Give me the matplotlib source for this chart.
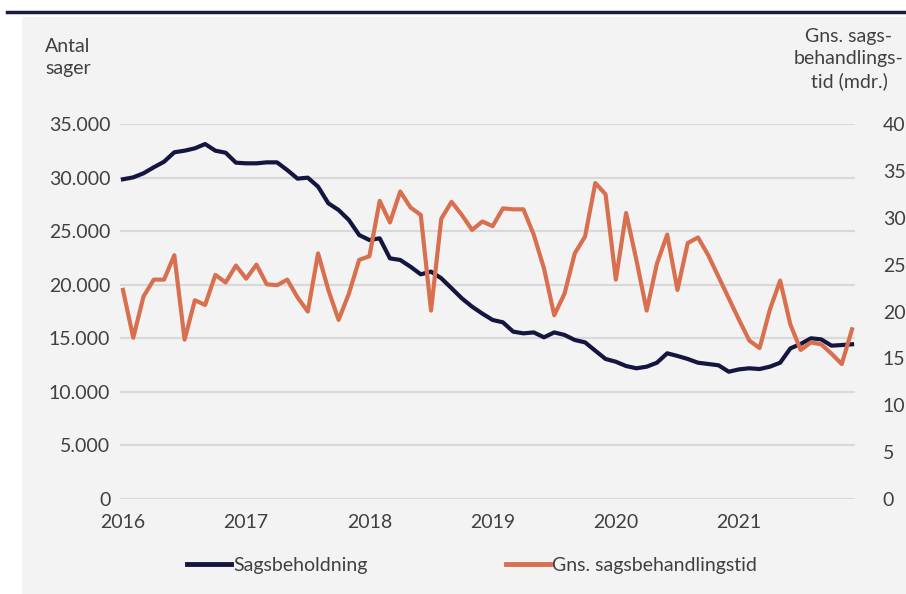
import matplotlib.pyplot as plt
from matplotlib.lines import Line2D
from matplotlib.patches import Rectangle

# monthly data jan 2016 - dec 2021
sagsbeholdning = [29840, 30020, 30400, 30960, 31480, 32360, 32510, 32730, 33130, 32510, 32320, 31390,
                  31330, 31330, 31420, 31420, 30700, 29900, 29990, 29150, 27600, 26970, 26040, 24640,
                  24170, 24330, 22460, 22310, 21680, 20970, 21220, 20600, 19670, 18730, 17950, 17300,
                  16710, 16490, 15620, 15460, 15550, 15090, 15550, 15310, 14840, 14620, 13840, 13070,
                  12810, 12410, 12200, 12350, 12720, 13600, 13350, 13070, 12720, 12600, 12480, 11880,
                  12100, 12200, 12130, 12350, 12720, 14060, 14470, 15000, 14900, 14310, 14370, 14440]

sagsbehandlingstid = [22.3, 17.2, 21.6, 23.4, 23.4, 26.0, 17.0, 21.2, 20.7, 23.9, 23.1, 24.9,
                      23.5, 25.0, 22.9, 22.8, 23.4, 21.5, 20.0, 26.2, 22.3, 19.1, 21.9, 25.5,
                      25.9, 31.8, 29.5, 32.8, 31.1, 30.3, 20.1, 29.9, 31.7, 30.3, 28.7, 29.6,
                      29.1, 31.0, 30.9, 30.9, 28.2, 24.6, 19.6, 21.9, 26.2, 28.0, 33.7, 32.5,
                      23.4, 30.5, 25.5, 20.1, 25.1, 28.2, 22.3, 27.3, 27.9, 26.0, 23.7, 21.4,
                      19.1, 16.9, 16.1, 20.2, 23.3, 18.6, 15.9, 16.7, 16.5, 15.5, 14.4, 18.1]

year_labels = ['2016', '2017', '2018', '2019', '2020', '2021']
left_ticks = [0, 5000, 10000, 15000, 20000, 25000, 30000, 35000]
right_ticks = [0, 5, 10, 15, 20, 25, 30, 35, 40]

navy = '#14163f'
orange = '#d8704f'
text_col = '#404040'
plt.rcParams['font.family'] = ['Lato', 'DejaVu Sans']
fs = 14

fig = plt.figure(figsize=(9.06, 5.94), dpi=100)

# grey panel and dark rule at the top
fig.add_artist(Rectangle((22 / 906, 0), 1, 1 - 17 / 594, transform=fig.transFigure,
                         facecolor='#f3f3f3', edgecolor='none', zorder=-10))
fig.add_artist(Line2D([7 / 906, 1], [1 - 12 / 594, 1 - 12 / 594], transform=fig.transFigure,
                      color='#1b1b40', linewidth=2.5, zorder=-5))

ax = fig.add_axes([120 / 906, 1 - 499 / 594, 735 / 906, 375 / 594])
ax.set_facecolor('none')
ax2 = ax.twinx()

x = list(range(len(sagsbeholdning)))
ax.plot(x, sagsbeholdning, color=navy, linewidth=3, solid_joinstyle='round', zorder=3)
ax2.plot(x, sagsbehandlingstid, color=orange, linewidth=3, solid_joinstyle='round', zorder=3)

ax.set_xlim(-0.29, 71.29)
ax.set_ylim(0, 35000)
ax2.set_ylim(0, 40)

# horizontal gridlines from left axis
for t in left_ticks:
    ax.axhline(t, color='#d9d9d9', linewidth=1.6, zorder=1)

ax.set_yticks(left_ticks)
ax.set_yticklabels(['0' if t == 0 else f'{t:,}'.replace(',', '.') for t in left_ticks])
ax2.set_yticks(right_ticks)
ax2.set_yticklabels([str(t) for t in right_ticks])
ax.set_xticks([i * 12 for i in range(len(year_labels))])
ax.set_xticklabels(year_labels)

for a in (ax, ax2):
    for s in a.spines.values():
        s.set_visible(False)
    a.tick_params(length=0, labelsize=fs, labelcolor=text_col)
ax.tick_params(axis='y', pad=7)
ax.tick_params(axis='x', pad=11)
ax2.tick_params(axis='y', pad=20)

# axis titles
fig.text(45 / 906, 1 - 38 / 594, 'Antal\nsager', ha='left', va='top', fontsize=fs,
         color=text_col, linespacing=1.35)
fig.text(849 / 906, 1 - 28 / 594, 'Gns. sags-\nbehandlings-\ntid (mdr.)', ha='center', va='top',
         fontsize=fs, color=text_col, linespacing=1.35, multialignment='center')

# legend
handles = [Line2D([], [], color=navy, linewidth=3.5), Line2D([], [], color=orange, linewidth=3.5)]
fig.legend(handles, ['Sagsbeholdning', 'Gns. sagsbehandlingstid'], loc='center',
           bbox_to_anchor=(472 / 906, 1 - 565 / 594), ncol=2, frameon=False, fontsize=fs,
           labelcolor=text_col, handlelength=2.3, handletextpad=0.1, columnspacing=7.1)

plt.savefig('out.png', dpi=100)
